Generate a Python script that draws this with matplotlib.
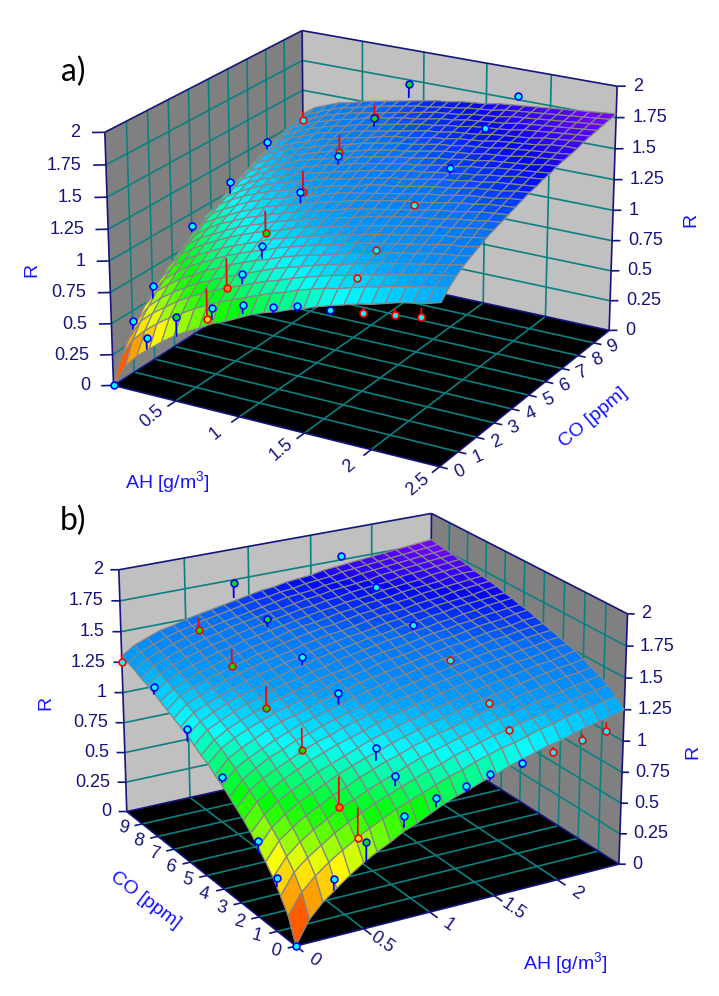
import numpy as np
import matplotlib
matplotlib.use('Agg')
import matplotlib.pyplot as plt
from matplotlib.colors import LinearSegmentedColormap
from mpl_toolkits.mplot3d import proj3d
from mpl_toolkits.mplot3d.art3d import Poly3DCollection

plt.rcParams['font.family'] = ['Liberation Sans', 'DejaVu Sans']
plt.rcParams['mathtext.default'] = 'regular'

W, H = 719, 996

AH_GRID = np.arange(26) * 0.1
CO_GRID = np.arange(26) * 0.4

# fitted surface, R x 100, one row per CO value
R_SURFACE = np.array([
    [0, 18, 29, 37, 45, 52, 58, 63, 69, 73, 78, 83, 87, 90, 94, 97, 101, 104, 107, 110, 112, 115, 118, 120, 122, 125],
    [19, 35, 45, 53, 60, 66, 72, 77, 82, 86, 90, 94, 98, 101, 105, 108, 111, 113, 116, 119, 121, 124, 126, 128, 130, 132],
    [30, 46, 55, 62, 69, 75, 80, 85, 89, 93, 97, 101, 104, 108, 111, 114, 117, 119, 122, 124, 126, 129, 131, 133, 135, 137],
    [40, 54, 63, 70, 76, 82, 86, 91, 95, 99, 103, 107, 110, 113, 116, 119, 121, 124, 126, 129, 131, 133, 135, 137, 139, 141],
    [48, 62, 70, 77, 82, 88, 92, 97, 101, 105, 108, 112, 115, 118, 120, 123, 126, 128, 130, 133, 135, 137, 139, 141, 142, 144],
    [55, 68, 76, 83, 88, 93, 98, 102, 106, 109, 113, 116, 119, 122, 124, 127, 130, 132, 134, 136, 138, 140, 142, 144, 145, 147],
    [62, 74, 82, 88, 93, 98, 102, 106, 110, 114, 117, 120, 123, 125, 128, 130, 133, 135, 137, 139, 141, 143, 145, 146, 148, 150],
    [68, 80, 87, 93, 98, 103, 107, 111, 114, 117, 121, 124, 126, 129, 131, 134, 136, 138, 140, 142, 144, 146, 147, 149, 151, 152],
    [73, 85, 92, 97, 102, 107, 111, 114, 118, 121, 124, 127, 130, 132, 134, 137, 139, 141, 143, 145, 146, 148, 150, 151, 153, 154],
    [78, 89, 96, 102, 106, 111, 114, 118, 121, 124, 127, 130, 132, 135, 137, 139, 141, 143, 145, 147, 149, 150, 152, 154, 155, 156],
    [83, 94, 100, 105, 110, 114, 118, 121, 124, 127, 130, 133, 135, 138, 140, 142, 144, 146, 147, 149, 151, 153, 154, 156, 157, 158],
    [87, 98, 104, 109, 114, 118, 121, 124, 128, 130, 133, 136, 138, 140, 142, 144, 146, 148, 150, 151, 153, 155, 156, 157, 159, 160],
    [92, 102, 108, 113, 117, 121, 124, 127, 130, 133, 136, 138, 140, 143, 145, 146, 148, 150, 152, 153, 155, 157, 158, 159, 161, 162],
    [95, 105, 111, 116, 120, 124, 127, 130, 133, 136, 138, 140, 143, 145, 147, 148, 150, 152, 154, 155, 157, 158, 160, 161, 162, 163],
    [99, 109, 114, 119, 123, 126, 130, 133, 135, 138, 140, 143, 145, 147, 149, 151, 152, 154, 155, 157, 158, 160, 161, 163, 164, 165],
    [103, 112, 117, 122, 126, 129, 132, 135, 138, 140, 143, 145, 147, 149, 151, 152, 154, 156, 157, 159, 160, 162, 163, 164, 165, 166],
    [106, 115, 120, 124, 128, 132, 135, 137, 140, 142, 145, 147, 149, 151, 152, 154, 156, 157, 159, 160, 162, 163, 164, 165, 167, 168],
    [109, 118, 123, 127, 131, 134, 137, 140, 142, 144, 147, 149, 151, 152, 154, 156, 158, 159, 160, 162, 163, 164, 166, 167, 168, 169],
    [112, 121, 126, 130, 133, 136, 139, 142, 144, 147, 149, 151, 153, 154, 156, 158, 159, 161, 162, 163, 165, 166, 167, 168, 169, 170],
    [115, 123, 128, 132, 135, 139, 141, 144, 146, 148, 151, 153, 154, 156, 158, 159, 161, 162, 163, 165, 166, 167, 168, 170, 171, 171],
    [118, 126, 131, 134, 138, 141, 143, 146, 148, 150, 152, 154, 156, 158, 159, 161, 162, 163, 165, 166, 167, 168, 170, 171, 172, 173],
    [121, 128, 133, 137, 140, 143, 145, 148, 150, 152, 154, 156, 158, 159, 161, 162, 164, 165, 166, 167, 169, 170, 171, 172, 173, 174],
    [123, 131, 135, 139, 142, 145, 147, 150, 152, 154, 156, 157, 159, 161, 162, 164, 165, 166, 167, 169, 170, 171, 172, 173, 174, 175],
    [126, 133, 137, 141, 144, 147, 149, 151, 153, 155, 157, 159, 161, 162, 163, 165, 166, 167, 169, 170, 171, 172, 173, 174, 175, 176],
    [128, 135, 139, 143, 146, 148, 151, 153, 155, 157, 159, 160, 162, 163, 165, 166, 167, 169, 170, 171, 172, 173, 174, 175, 176, 177],
    [130, 137, 141, 145, 147, 150, 152, 154, 156, 158, 160, 162, 163, 165, 166, 167, 169, 170, 171, 172, 173, 174, 175, 176, 177, 178],
]) / 100

# measured points and where their stems meet the surface
AH_PTS = [0, 0, 0, 0, 0, 0, 0,
          .6, .6, .6, .6, .6, .6,
          .88, .88, .88, .88, .88, .88,
          1.75, 1.75, 1.75, 1.75, 1.75, 1.75,
          .28, .52, .8, 1.04, 1.27, 1.45, 1.7, 1.94, 2.17, 2.36]
CO_PTS = [0, 1, 2, 4, 6, 8, 10,
          1, 2, 4, 6, 8, 10,
          1, 2, 4, 6, 8, 10,
          1, 2, 4, 6, 8, 10,
          0, 0, 0, 0, 0, 0, 0, 0, 0, 0]
R_PTS = [0, .42, .6, .9, 1.08, 1.23, 1.25,
         .58, .72, .97, 1.12, 1.27, 1.39,
         1.0, 1.12, 1.36, 1.47, 1.6, 1.72,
         1.16, 1.28, 1.44, 1.55, 1.69, 1.78,
         .45, .68, .81, .89, .93, .98, 1.01, 1.04, 1.08, 1.11]
R_FIT = [0, .35, .5, .85, .98, 1.17, 1.32,
         .82, .96, 1.15, 1.29, 1.41, 1.49,
         .92, 1.02, 1.27, 1.4, 1.53, 1.6,
         1.19, 1.31, 1.47, 1.5, 1.65, 1.75,
         .36, .52, .72, .82, .88, .93, .97, 1.08, 1.13, 1.18]

R_TICKS = [0, .25, .5, .75, 1, 1.25, 1.5, 1.75, 2]
R_LABELS = ['0', '0.25', '0.5', '0.75', '1', '1.25', '1.5', '1.75', '2']
CO_TICKS = [0, 1, 2, 3, 4, 5, 6, 7, 8, 9]

NAVY = '#14147f'
TEAL = '#0a8080'
BLUE = '#1414ff'

rainbow = LinearSegmentedColormap.from_list('rainbow3d', [
    (0, '#ff0000'), (.125, '#ff8000'), (.25, '#ffff00'), (.4, '#00ff00'),
    (.55, '#00ffff'), (.65, '#00a0ff'), (.76, '#0070ff'), (.83, '#0000ff'), (.89, '#8000ff'), (1, '#c000ff')])


def place_axes(ax, cx, cy, s):
    # put the projected origin at pixel cx, cy with s pixels per projected unit
    a0 = ax.transLimits.transform((0, 0))
    k = ax.transLimits.transform((1, 1)) - a0
    size = s / k[0]
    ax.set_position([(cx - size * a0[0]) / W, (H - cy - size * a0[1]) / H, size / W, size / H])


def line(ax, x, y, z, color, lw, zorder):
    ax.plot(x, y, z, color=color, lw=lw, zorder=zorder, solid_capstyle='butt')


def text_at(ax, x, y, z, txt, **kw):
    # rotated text keeps its angle only as plain figure text
    xp, yp, _ = proj3d.proj_transform(x, y, z, ax.get_proj())
    px = ax.transData.transform((xp, yp))
    fig.text(px[0] / W, px[1] / H, txt, color=NAVY, fontsize=13, va='center', **kw)


def marker_fill(xp, yp):
    if (xp, yp) == (.6, 1):
        return '#ffe000'
    if (xp, yp) == (.6, 2):
        return '#ff8000'
    if xp == .6 or (xp, yp) in ((.88, 8), (.88, 10), (.52, 0)):
        return '#00e000'
    return '#00ffff'


def draw_panel(rect_view, wall_x, left_corner, left_dir, right_corner, right_dir, front_x,
               co_dir, x_ticks, x_rot, co_rot, x_lab_y):
    el, az, f, bx, by, cx, cy, s = rect_view
    ax = fig.add_axes([0, 0, 1, 1], projection='3d', computed_zorder=False)
    ax.set_xlim(0, 2.5)
    ax.set_ylim(0, 10)
    ax.set_zlim(0, 2)
    ax.view_init(el, az)
    ax.set_proj_type('persp', focal_length=f)
    ax.set_box_aspect((bx, by, 1))
    ax.set_axis_off()
    ax.patch.set_visible(False)
    place_axes(ax, cx, cy, s)

    # floor and the two walls
    panes = [([(0, 0, 0), (2.5, 0, 0), (2.5, 10, 0), (0, 10, 0)], 'black'),
             ([(wall_x, 0, 0), (wall_x, 10, 0), (wall_x, 10, 2), (wall_x, 0, 2)], '#808080'),
             ([(0, 10, 0), (2.5, 10, 0), (2.5, 10, 2), (0, 10, 2)], '#c0c0c0')]
    for verts, col in panes:
        ax.add_collection3d(Poly3DCollection([verts], facecolor=col, edgecolor='none', zorder=1))

    # grid
    for xv in [.5, 1, 1.5, 2]:
        line(ax, [xv, xv], [0, 10], [0, 0], TEAL, 1.2, 2)
        line(ax, [xv, xv], [10, 10], [0, 2], TEAL, 1.2, 2)
    for yv in CO_TICKS[1:]:
        line(ax, [0, 2.5], [yv, yv], [0, 0], TEAL, 1.2, 2)
        line(ax, [wall_x, wall_x], [yv, yv], [0, 2], TEAL, 1.2, 2)
    for zv in R_TICKS[1:-1]:
        line(ax, [0, 2.5], [10, 10], [zv, zv], TEAL, 1.2, 2)
        line(ax, [wall_x, wall_x], [0, 10], [zv, zv], TEAL, 1.2, 2)

    # frame
    other_x = 2.5 - wall_x
    frame = [([0, 2.5], [0, 0], [0, 0]), ([2.5, 2.5], [0, 10], [0, 0]), ([0, 0], [0, 10], [0, 0]),
             ([0, 2.5], [10, 10], [0, 0]), ([0, 2.5], [10, 10], [2, 2]),
             ([wall_x, wall_x], [0, 10], [2, 2]),
             ([wall_x, wall_x], [0, 0], [0, 2]), ([wall_x, wall_x], [10, 10], [0, 2]),
             ([other_x, other_x], [10, 10], [0, 2])]
    for fx, fy, fz in frame:
        line(ax, fx, fy, fz, NAVY, 1.2, 3)

    # surface
    xg, yg = np.meshgrid(AH_GRID, CO_GRID)
    ax.plot_surface(xg, yg, R_SURFACE, rstride=1, cstride=1, cmap=rainbow, vmin=0, vmax=2,
                    shade=False, edgecolor='#868686', linewidth=.9, antialiased=True, zorder=4)

    # stems and points
    for xp, yp, rp, rf in zip(AH_PTS, CO_PTS, R_PTS, R_FIT):
        col = '#0000ff' if rp >= rf else '#ff0000'
        line(ax, [xp, xp], [yp, yp], [rp, rf], col, 1.3, 5)
        ax.scatter([xp], [yp], [rp], s=24, facecolor=marker_fill(xp, yp), edgecolor=col, linewidth=1.2,
                   depthshade=False, zorder=6)

    # R ticks on both sides
    for zv, lab in zip(R_TICKS, R_LABELS):
        for corner, d, ha in ((left_corner, left_dir, 'right'), (right_corner, right_dir, 'left')):
            line(ax, [corner[0], corner[0] + d[0]], [corner[1], corner[1] + d[1]], [zv, zv], NAVY, 1.2, 3)
            text_at(ax, corner[0] + 1.9 * d[0], corner[1] + 1.9 * d[1], zv, lab, ha=ha)

    # AH ticks
    for xv in x_ticks:
        line(ax, [xv, xv], [0, -.4], [0, 0], NAVY, 1.2, 3)
        text_at(ax, xv, x_lab_y, 0, '%g' % xv, ha='center', rotation=x_rot)

    # CO ticks
    for yv in CO_TICKS:
        line(ax, [front_x, front_x + co_dir], [yv, yv], [0, 0], NAVY, 1.2, 3)
        text_at(ax, front_x + 2.5 * co_dir, yv, 0, str(yv), ha='center', rotation=co_rot)
    return ax


def label(px, py, txt, color=BLUE, size=14, rot=0, **kw):
    fig.text(px / W, 1 - py / H, txt, color=color, fontsize=size, rotation=rot, ha='center', va='center', **kw)


fig = plt.figure(figsize=(W / 100, H / 100), dpi=100)

draw_panel((21.6608, -60.2233, .9676, 1.3797, 1.3810, 366.5569, 235.1071, 3077.5167),
           wall_x=0, left_corner=(0, 0), left_dir=(-.07, -.18), right_corner=(2.5, 10), right_dir=(.05, .12),
           front_x=2.5, co_dir=.06, x_ticks=[.5, 1, 1.5, 2, 2.5], x_rot=40, co_rot=25, x_lab_y=-1.15)
draw_panel((21.7667, -120.1022, .9716, 1.3862, 1.3740, 367.8721, 716.3856, 3047.2689),
           wall_x=2.5, left_corner=(0, 10), left_dir=(-.05, .12), right_corner=(2.5, 0), right_dir=(.04, -.1),
           front_x=0, co_dir=-.06, x_ticks=[0, .5, 1, 1.5, 2], x_rot=-35, co_rot=-15, x_lab_y=-.95)

label(167, 482, 'AH [g/m$^3$]')
label(593, 418, 'CO [ppm]', rot=40)
label(32, 270, 'R', rot=90)
label(691, 220, 'R', rot=90)
label(565, 963, 'AH [g/m$^3$]')
label(145, 900, 'CO [ppm]', rot=-37)
label(46, 703, 'R', rot=90)
label(693, 752, 'R', rot=90)

label(73, 72, 'a)', color='black', size=23, family='Lato')
label(73, 521, 'b)', color='black', size=23, family='Lato')

fig.savefig('out.png', dpi=100)
